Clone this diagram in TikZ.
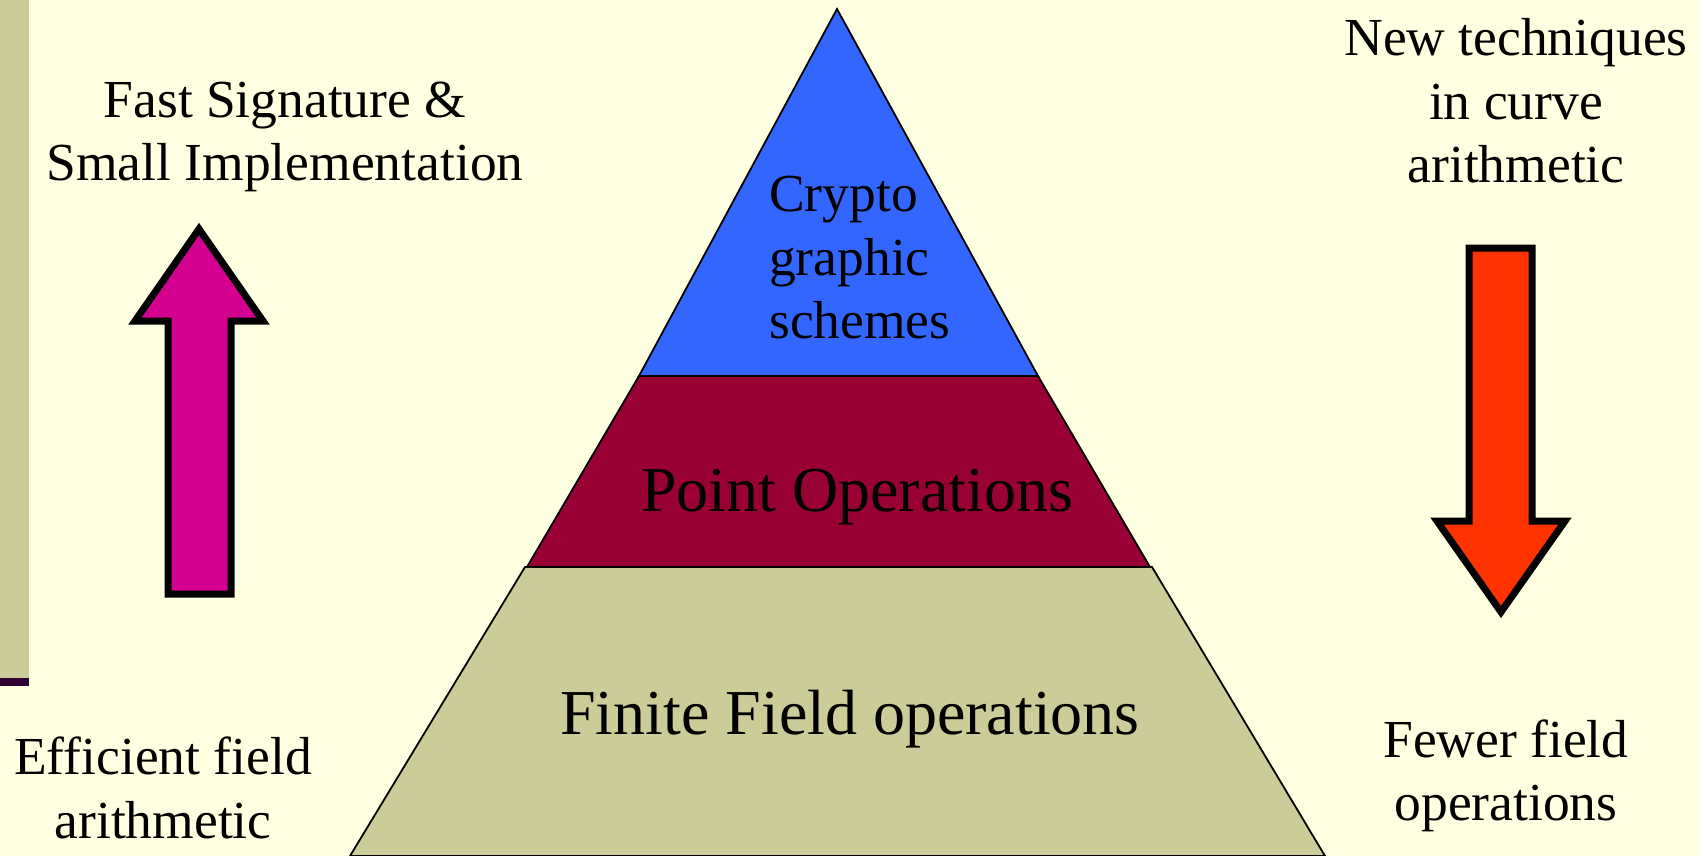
\documentclass[tikz,border=0pt]{standalone}
\usepackage{fontspec}
\setmainfont{Liberation Serif}
\definecolor{bgc}{HTML}{FFFFE1}
\definecolor{khaki}{HTML}{CCCC99}
\definecolor{wine}{HTML}{990033}
\definecolor{blu}{HTML}{3366FF}
\definecolor{darkp}{HTML}{330033}
\definecolor{magen}{HTML}{D4008F}
\definecolor{orng}{HTML}{FF3300}
\tikzset{
  layer/.style={draw=black,line width=1.8pt,line join=miter},
  fatarrow/.style={draw=black,line width=7pt,line join=miter},
  txt/.style={inner sep=0pt,align=center,font=\fontsize{53.5}{63.5}\selectfont},
  bigtxt/.style={inner sep=0pt,align=center,font=\fontsize{64}{76}\selectfont},
}
\begin{document}
\begin{tikzpicture}[x=1pt,y=-1pt]
\fill[bgc] (0,0) rectangle (1700,856);
\useasboundingbox (0,0) rectangle (1700,856);
% left bar
\fill[khaki] (0,0) rectangle (29,678);
\fill[darkp] (0,678) rectangle (29,686);
% pyramid layers
\filldraw[layer,fill=khaki] (525,567) -- (1152,567) -- (1325,856) -- (350,856) -- cycle;
\filldraw[layer,fill=wine] (639,376) -- (1038,376) -- (1150,567) -- (527,567) -- cycle;
\filldraw[layer,fill=blu] (837,9) -- (1038,376) -- (639,376) -- cycle;
% labels in pyramid
\node[txt,align=left,anchor=west] (crypto) at (769,258) {Crypto\\graphic\\schemes};
\node[bigtxt] (point) at (857,497) {Point Operations};
\node[bigtxt] (finite) at (850,719) {Finite Field operations};
% side texts
\node[txt] (fast) at (285,137) {Fast Signature \&\\Small Implementation};
\node[txt] (newtech) at (1516,101) {New techniques\\in curve\\arithmetic};
\node[txt] (effic) at (163,788) {Efficient field\\arithmetic};
\node[txt] (fewer) at (1506,776) {Fewer field\\operations};
% arrows
\filldraw[fatarrow,fill=magen] (199,229) -- (263,321) -- (231,321) -- (231,594) -- (168,594) -- (168,321) -- (135,321) -- cycle;
\filldraw[fatarrow,fill=orng] (1469,248) -- (1532,248) -- (1532,521) -- (1565,521) -- (1501,612) -- (1437,521) -- (1469,521) -- cycle;
\end{tikzpicture}
\end{document}
